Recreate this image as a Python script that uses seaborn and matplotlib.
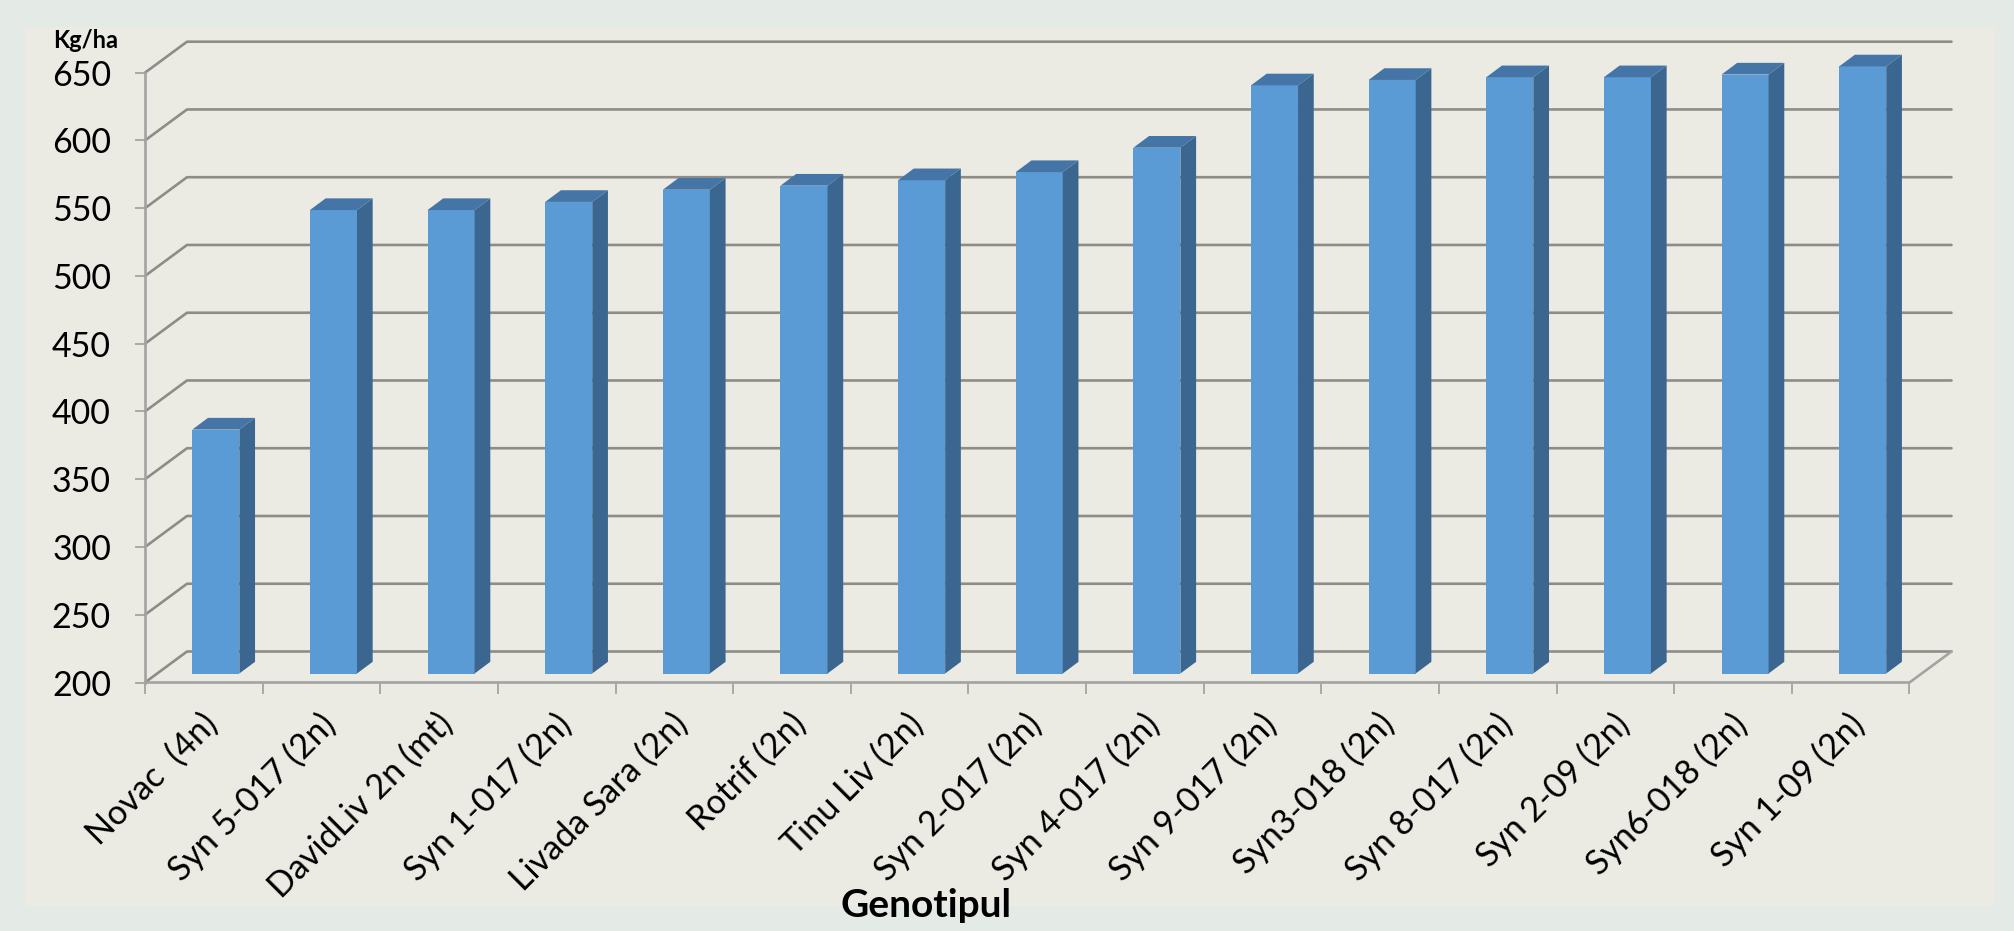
import numpy as np
import pandas as pd
import matplotlib
matplotlib.use("Agg")
import matplotlib.pyplot as plt
import seaborn as sns
from matplotlib.patches import Polygon, Rectangle
from matplotlib.lines import Line2D
from matplotlib.transforms import ScaledTranslation

# ---------------- data ----------------
genotypes = ["Novac  (4n)", "Syn 5-017 (2n)", "DavidLiv 2n (mt)", "Syn 1-017 (2n)",
             "Livada Sara (2n)", "Rotrif (2n)", "Tinu Liv (2n)", "Syn 2-017 (2n)",
             "Syn 4-017 (2n)", "Syn 9-017 (2n)", "Syn3-018 (2n)", "Syn 8-017 (2n)",
             "Syn 2-09 (2n)", "Syn6-018 (2n)", "Syn 1-09 (2n)"]
yields = [380, 542, 542, 548, 557, 560, 564, 570, 588, 634, 638, 640, 640, 642, 648]
y_ticks = [200, 250, 300, 350, 400, 450, 500, 550, 600, 650]
y_unit = "Kg/ha"
x_title = "Genotipul"

# ---------------- style ----------------
sns.set_theme(style="white")
plt.rcParams["font.family"] = ["Lato", "DejaVu Sans"]

OUTER = "#E4EAE5"
INNER = "#EBEBE4"
FRONT = "#5B9BD5"
SIDE = "#3A6690"
TOP = "#4475A6"
GRID = "#8E8C88"
AXIS = "#A3A3A3"

W, H, DPI = 2015, 931, 100
fig = plt.figure(figsize=(W / DPI, H / DPI), dpi=DPI, facecolor=OUTER)
fig.patches.append(Rectangle((25 / W, 1 - 906 / H), (1995 - 25) / W, (906 - 27) / H,
                             transform=fig.transFigure, facecolor=INNER,
                             edgecolor="none", zorder=-5))

# front plane of the 3-D box (pixels)
left_px, right_px = 145, 1909.5
bot_px, top_px = 682.5, 72.7
ax = fig.add_axes([left_px / W, 1 - bot_px / H, (right_px - left_px) / W, (bot_px - top_px) / H])
ax.set_zorder(1)
ax.set_facecolor("none")

n = len(genotypes)
df = pd.DataFrame({"Genotip": genotypes, "Productie": yields})
sns.barplot(data=df, x="Genotip", y="Productie", order=genotypes, color=FRONT,
            saturation=1, width=0.4, ax=ax, zorder=3, errorbar=None)

ymin, ymax = y_ticks[0], y_ticks[-1]
ax.set_xlim(-0.5, n - 0.5)
ax.set_ylim(ymin, ymax)

# conversion pixels -> data units
px_x = (right_px - left_px) / n
px_y = (bot_px - top_px) / (ymax - ymin)
DX, DY = 42 / px_x, 31 / px_y          # full depth of the box
bdx0, bdy0 = 12 / px_x, 9 / px_y       # bar front offset
bdx, bdy = 15.7 / px_x, 11.7 / px_y    # bar depth

# gridlines (left wall + back wall)
for v in y_ticks:
    ax.add_line(Line2D([-0.5, -0.5 + DX, n - 0.5 + DX], [v, v + DY, v + DY],
                       color=GRID, lw=1.9, zorder=1, clip_on=False))
# floor front and right edge
ax.add_line(Line2D([-0.5, n - 0.5, n - 0.5 + DX], [ymin, ymin, ymin + DY],
                   color=AXIS, lw=1.9, zorder=2, clip_on=False))

# turn seaborn bars into 3-D columns
for p in list(ax.patches):
    x0, w, h = p.get_x(), p.get_width(), p.get_height()
    xf = x0 + bdx0
    yb = ymin + bdy0
    top = h + bdy0
    p.set_x(xf)
    p.set_y(yb)
    p.set_height(h - ymin)
    p.set_edgecolor("none")
    p.set_clip_on(False)
    side = Polygon([[xf + w, yb], [xf + w, top], [xf + w + bdx, top + bdy],
                    [xf + w + bdx, yb + bdy]], closed=True, facecolor=SIDE,
                   edgecolor="none", zorder=3, clip_on=False)
    topf = Polygon([[xf, top], [xf + w, top], [xf + w + bdx, top + bdy],
                    [xf + bdx, top + bdy]], closed=True, facecolor=TOP,
                   edgecolor="none", zorder=3, clip_on=False)
    ax.add_patch(side)
    ax.add_patch(topf)

# spines
for s in ["top", "right", "bottom"]:
    ax.spines[s].set_visible(False)
ax.spines["left"].set_color(AXIS)
ax.spines["left"].set_linewidth(1.9)
ax.spines["left"].set_zorder(2)
ax.grid(False)

# y ticks
ax.set_yticks(y_ticks)
ax.set_yticklabels([str(v) for v in y_ticks])
ax.tick_params(axis="y", direction="out", length=7.5, width=1.3, color=AXIS,
               labelsize=24.5, pad=17, labelcolor="black", left=True)

# x ticks: boundaries as minor ticks, labels at centres
ax.set_xticks(np.arange(n))
ax.set_xticks(np.arange(n + 1) - 0.5, minor=True)
ax.set_xticklabels(genotypes, rotation=45, ha="right", va="top",
                   rotation_mode="anchor")
ax.tick_params(axis="x", which="major", length=0, labelsize=24.5, pad=18,
               labelcolor="black", bottom=True)
ax.tick_params(axis="x", which="minor", direction="out", length=8, width=1.3,
               color=AXIS, bottom=True)
off = ScaledTranslation(-2 / 72, 0, fig.dpi_scale_trans)
for lab in ax.get_xticklabels():
    lab.set_transform(lab.get_transform() + off)

ax.set_xlabel("")
ax.set_ylabel("")

fig.text(53 / W, 1 - 48 / H, y_unit, ha="left", va="baseline",
         fontsize=17, fontweight="bold", color="black")
fig.text(926 / W, 1 - 917 / H, x_title, ha="center", va="baseline",
         fontsize=28, fontweight="bold", color="black")

fig.savefig("out.png", dpi=DPI, facecolor=OUTER)
